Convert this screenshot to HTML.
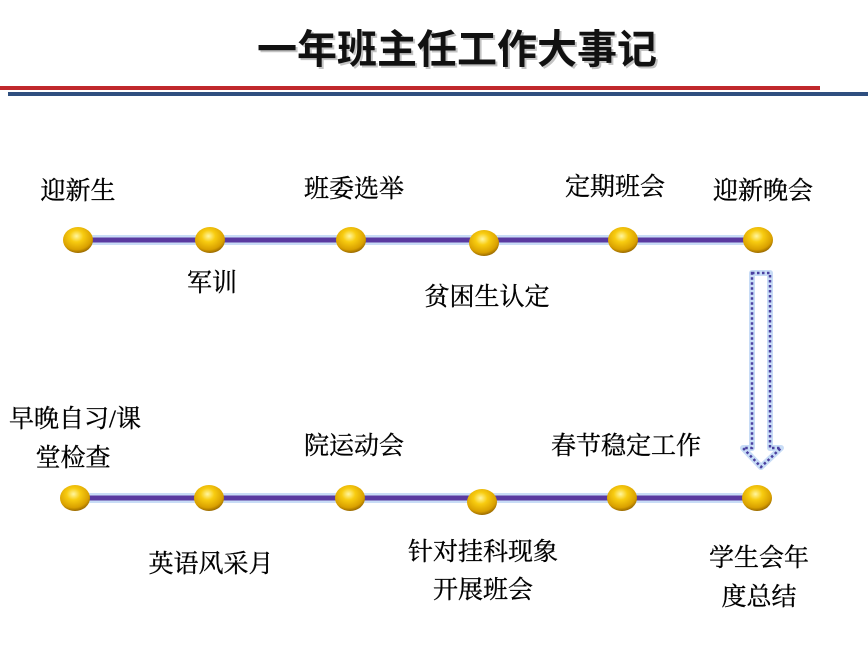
<!DOCTYPE html>
<html><head><meta charset="utf-8"><style>
html,body{margin:0;padding:0;background:#fff;}
svg{display:block;}
.t{font-family:"Liberation Serif","Noto Serif CJK SC",serif;font-size:25px;fill:#000;stroke:#000;stroke-width:0.35;text-anchor:middle;}
</style></head><body>
<svg width="868" height="647" viewBox="0 0 868 647" xmlns="http://www.w3.org/2000/svg">
<defs>
<radialGradient id="g" cx="45%" cy="35%" r="65%">
<stop offset="0" stop-color="#fff6a0"/><stop offset="0.35" stop-color="#f8cc10"/><stop offset="0.8" stop-color="#d9a000"/><stop offset="1" stop-color="#9a6a00"/>
</radialGradient>
</defs>
<text x="457" y="63" text-anchor="middle" font-family="Liberation Sans,'Noto Sans CJK SC',sans-serif" font-weight="bold" font-size="40" fill="#888" opacity="0.5" transform="translate(2,2)">一年班主任工作大事记</text>
<text x="457" y="63" text-anchor="middle" font-family="Liberation Sans,'Noto Sans CJK SC',sans-serif" font-weight="bold" font-size="40" fill="#111">一年班主任工作大事记</text>
<rect x="0" y="86" width="820" height="4" fill="#c0282c"/>
<rect x="8" y="92" width="860" height="4" fill="#2f4f7f"/>
<line x1="78" y1="240" x2="758" y2="240" stroke="#c8dcf6" stroke-width="10"/>
<line x1="78" y1="240" x2="758" y2="240" stroke="#5a3aa0" stroke-width="5"/>
<line x1="75" y1="498" x2="757" y2="498" stroke="#c8dcf6" stroke-width="10"/>
<line x1="75" y1="498" x2="757" y2="498" stroke="#5a3aa0" stroke-width="5"/>
<g fill="url(#g)">
<ellipse cx="78" cy="240" rx="15" ry="13"/><ellipse cx="210" cy="240" rx="15" ry="13"/><ellipse cx="351" cy="240" rx="15" ry="13"/><ellipse cx="484" cy="243" rx="15" ry="13"/><ellipse cx="623" cy="240" rx="15" ry="13"/><ellipse cx="758" cy="240" rx="15" ry="13"/>
<ellipse cx="75" cy="498" rx="15" ry="13"/><ellipse cx="209" cy="498" rx="15" ry="13"/><ellipse cx="350" cy="498" rx="15" ry="13"/><ellipse cx="482" cy="502" rx="15" ry="13"/><ellipse cx="622" cy="498" rx="15" ry="13"/><ellipse cx="757" cy="498" rx="15" ry="13"/>
</g>
<path d="M752,273 H770 V448 H781 L761,467 L743,448 H752 Z" fill="#fff" stroke="#c8dcf6" stroke-width="6" stroke-linejoin="round"/>
<path d="M752,273 H770 V448 H781 L761,467 L743,448 H752 Z" fill="none" stroke="#4a40a0" stroke-width="2.5" stroke-dasharray="2.5,2.5"/>
<text class="t" x="78" y="199">迎新生</text>
<text class="t" x="354" y="197">班委选举</text>
<text class="t" x="615" y="195">定期班会</text>
<text class="t" x="763" y="199">迎新晚会</text>
<text class="t" x="212" y="291">军训</text>
<text class="t" x="487" y="305">贫困生认定</text>
<text class="t" x="75" y="427">早晚自习/课</text>
<text class="t" x="73" y="466">堂检查</text>
<text class="t" x="354" y="454">院运动会</text>
<text class="t" x="626" y="454">春节稳定工作</text>
<text class="t" x="211" y="572">英语风采月</text>
<text class="t" x="483" y="560">针对挂科现象</text>
<text class="t" x="483" y="598">开展班会</text>
<text class="t" x="759" y="566">学生会年</text>
<text class="t" x="759" y="605">度总结</text>
</svg>
</body></html>
